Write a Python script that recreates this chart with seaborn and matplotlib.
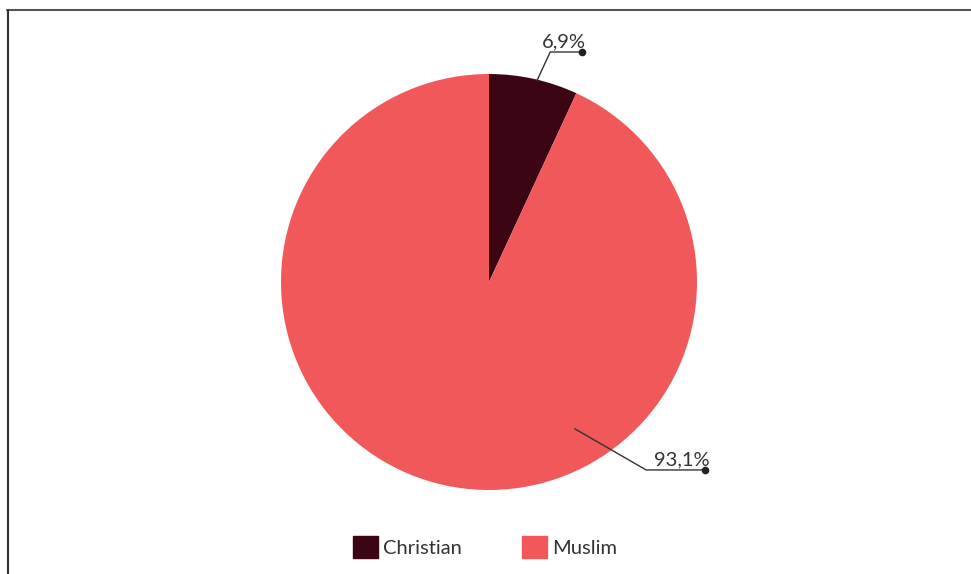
import numpy as np
import matplotlib
matplotlib.use("Agg")
import matplotlib.pyplot as plt
import seaborn as sns
from matplotlib.lines import Line2D

sns.set_theme(style="white")
plt.rcParams['font.family'] = ['Lato', 'DejaVu Sans']

categories = ["Christian", "Muslim"]
values = [6.9, 93.1]
labels = ["6,9%", "93,1%"]
colors = ["#3b0513", "#f0585a"]

W, H = 971, 574
fig = plt.figure(figsize=(W / 100, H / 100), dpi=100)
ax = fig.add_axes([0, 0, 1, 1])

cx, cy, R = 489, H - 282, 208
wedges, _ = ax.pie(values, colors=colors, startangle=90, counterclock=False,
                   center=(cx, cy), radius=R, frame=True,
                   wedgeprops=dict(linewidth=0))
ax.set_xlim(0, W)
ax.set_ylim(0, H)
ax.set_aspect("equal")
ax.axis("off")

# leader lines: (start angle, start radius, elbow angle, elbow radius, end x offset)
leaders = [
    (76.6, 207, 75.1, 238, 32),
    (-59.7, 170, -50.1, 245, 59),
]
for (a0, r0, a1, r1, dx), lab in zip(leaders, labels):
    x0 = cx + r0 * np.cos(np.radians(a0)); y0 = cy + r0 * np.sin(np.radians(a0))
    x1 = cx + r1 * np.cos(np.radians(a1)); y1 = cy + r1 * np.sin(np.radians(a1))
    x2 = x1 + dx
    ax.plot([x0, x1, x2], [y0, y1, y1], color="#333333", lw=1.0)
    ax.plot([x2], [y1], "o", color="#222222", ms=4.5)
    ax.text(x2 + 4, y1 + 2, lab, ha="right", va="bottom", fontsize=14.5,
            color="#333333")

handles = [plt.Rectangle((0, 0), 1, 1, color=c) for c in colors]
fig.legend(handles, categories, loc="center", bbox_to_anchor=(485 / W, 1 - 547 / H),
           ncol=2, frameon=False, fontsize=14.5, handlelength=1.25,
           handleheight=1.25, handletextpad=0.25, columnspacing=3.0,
           labelcolor="#333333")

# border lines
fig.add_artist(Line2D([7 / W, 1], [1 - 9.5 / H, 1 - 9.5 / H], color="#555555", lw=1.5,
                      transform=fig.transFigure))
fig.add_artist(Line2D([7.5 / W, 7.5 / W], [0, 1 - 9.5 / H], color="#333333", lw=1.5,
                      transform=fig.transFigure))

fig.savefig("out.png", dpi=100, facecolor="white")
